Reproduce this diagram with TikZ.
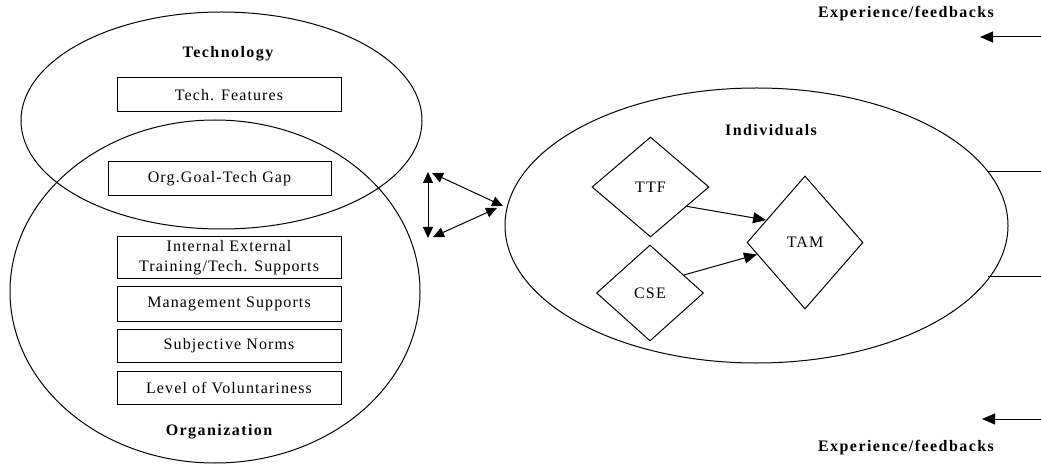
\documentclass[tikz,border=0pt]{standalone}
\usepackage{fontspec}
\setmainfont{Liberation Serif}[LetterSpace=7]
\newfontfamily\headfont{Liberation Serif}[LetterSpace=9]
\usetikzlibrary{shapes.geometric,arrows.meta}
\begin{document}
\begin{tikzpicture}[x=1pt,y=-1pt,
  every node/.style={inner sep=0pt},
  oval/.style={draw,ellipse,line width=1pt},
  factor/.style={draw,line width=1pt,minimum width=224pt,minimum height=34pt,font=\fontsize{16}{18}\selectfont,align=center},
  cons/.style={draw,diamond,line width=1pt,font=\fontsize{16}{18}\selectfont},
  head/.style={font=\headfont\bfseries\fontsize{16}{18}\selectfont},
  link/.style={line width=1pt,-{Triangle[length=13pt,width=11pt]}},
  both/.style={line width=1pt,{Triangle[length=11pt,width=10pt]}-{Triangle[length=11pt,width=10pt]}},
  plain/.style={line width=1pt}]
\useasboundingbox (0,0) rectangle (1041,470);
% ellipses
\node[oval,minimum width=410pt,minimum height=343pt] (org) at (215,291.5) {};
\node[oval,minimum width=401pt,minimum height=217pt] (tech) at (221.5,120.5) {};
\node[oval,minimum width=503pt,minimum height=275pt] (indiv) at (756.5,225.5) {};
% headings
\node[head] (techlab) at (228,54) {Technology};
\node[head] (orglab) at (219,432) {Organization};
\node[head] (indlab) at (771,130) {Individuals};
\node[head] (exptop) at (906,14) {Experience/feedbacks};
\node[head] (expbot) at (906,448) {Experience/feedbacks};
% factor boxes
\node[factor] (tf) at (229,95) {Tech. Features};
\node[factor,minimum width=223pt] (gap) at (219.5,179) {Org.Goal-Tech Gap};
\node[factor,minimum height=42pt,font=\fontsize{16}{20}\selectfont] (train) at (229,258) {Internal External\\Training/Tech. Supports};
\node[factor] (mgmt) at (229,304) {Management Supports};
\node[factor,minimum height=33pt] (norms) at (229,345.5) {Subjective Norms};
\node[factor,minimum height=33pt] (vol) at (229,387.5) {Level of Voluntariness};
% diamonds
\node[cons,minimum width=117pt,minimum height=100pt] (ttf) at (650.5,187) {TTF};
\node[cons,minimum width=107pt,minimum height=96pt] (cse) at (650,293) {CSE};
\node[cons,minimum width=116pt,minimum height=133pt] (tam) at (805,242.5) {TAM};
\draw[link] (ttf.-28) -- (tam.150);
\draw[link] (cse.28) -- (tam.-166);
% triangle of interactions
\coordinate (tl) at (428,172);
\coordinate (bl) at (428,238);
\coordinate (tlb) at (432,173);
\coordinate (rt) at (503,206);
\coordinate (blb) at (433,237);
\coordinate (rb) at (497,208);
\draw[both] (tl) -- (bl);
\draw[both] (tlb) -- (rt);
\draw[both] (blb) -- (rb);
% right side lines and feedback arrows
\coordinate (r1a) at (987,171.5);
\coordinate (r1b) at (1041,171.5);
\coordinate (r2a) at (988,276.5);
\coordinate (r2b) at (1041,276.5);
\draw[plain] (r1a) -- (r1b);
\draw[plain] (r2a) -- (r2b);
\coordinate (f1s) at (1041,37);
\coordinate (f1e) at (980,37);
\coordinate (f2s) at (1041,419);
\coordinate (f2e) at (982,419);
\draw[link] (f1s) -- (f1e);
\draw[link] (f2s) -- (f2e);
\end{tikzpicture}
\end{document}
